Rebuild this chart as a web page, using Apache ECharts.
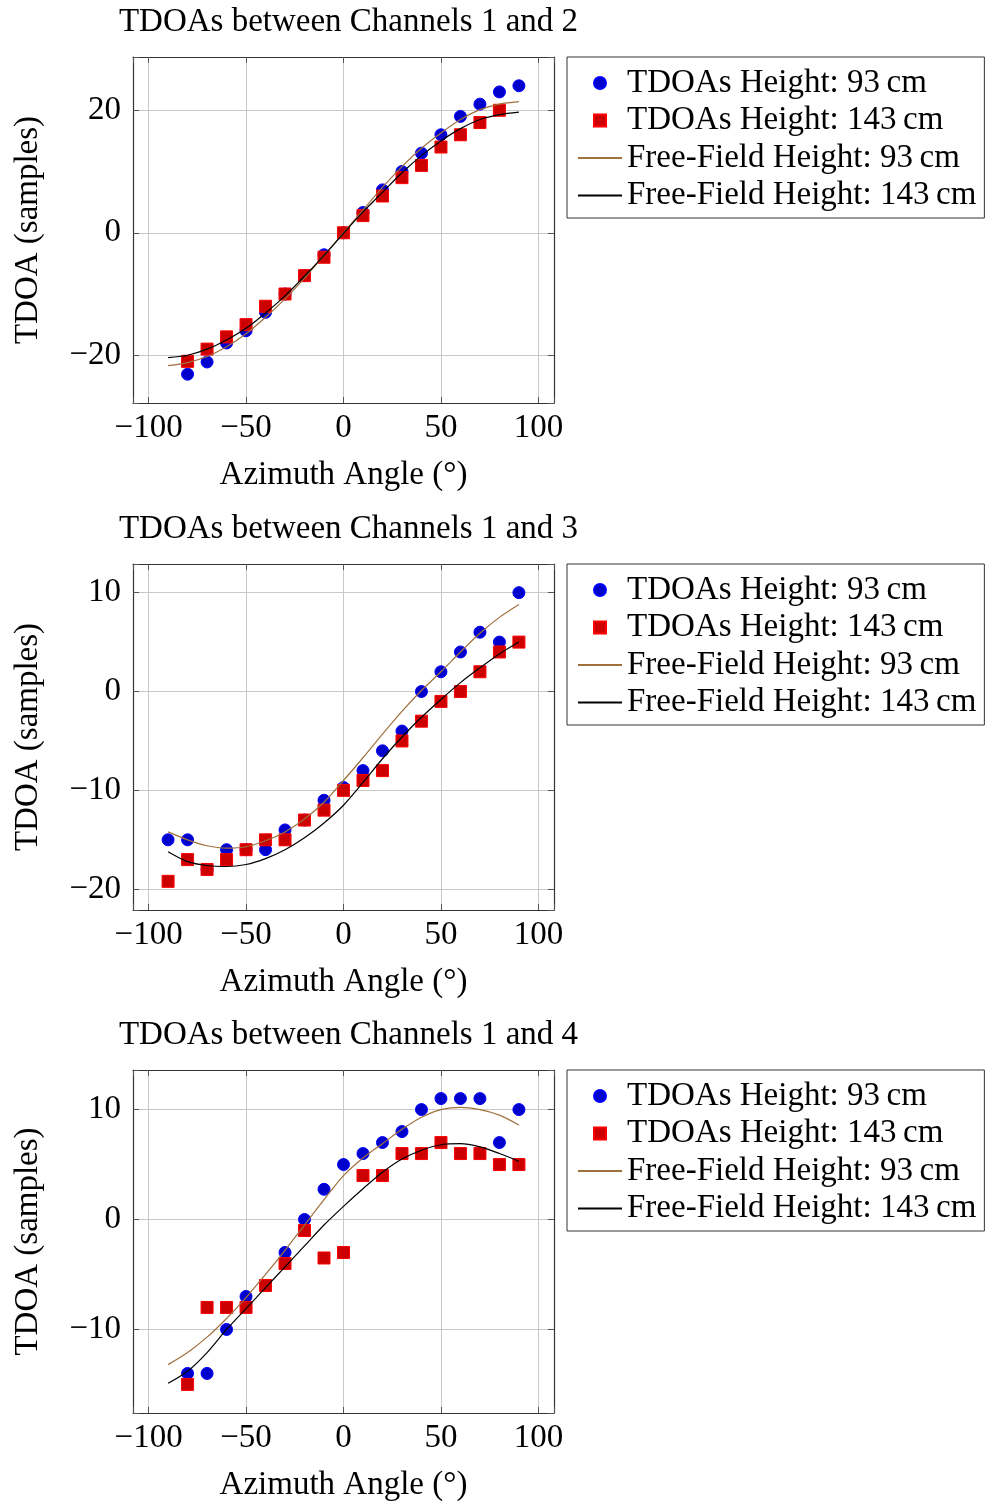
<!DOCTYPE html>
<html lang="en">

<head>
    <meta charset="UTF-8">
    <title>TDOAs</title>
    <script src="https://cdn.jsdelivr.net/npm/echarts@6/dist/echarts.min.js"></script>
    <style>
        body {
            margin: 0;
            background: #fff;
        }

        #main {
            width: 987px;
            height: 1503px;
        }
    </style>
</head>

<body>
    <div id="main"></div>
    <script>
        // azimuth angles (deg)
        var angles = [-90, -80, -70, -60, -50, -40, -30, -20, -10, 0, 10, 20, 30, 40, 50, 60, 70, 80, 90];

        var titles = ['TDOAs between Channels 1 and 2', 'TDOAs between Channels 1 and 3', 'TDOAs between Channels 1 and 4'];
        var names = ['TDOAs Height: 93\u2009cm', 'TDOAs Height: 143\u2009cm', 'Free-Field Height: 93\u2009cm', 'Free-Field Height: 143\u2009cm'];

        // channels 1-2
        var meas93_12 = [null, -23.1, -21.1, -18, -16, -13, -10, -7, -3.6, 0, 3.3, 7, 10, 13, 16, 19, 21, 23, 24];
        var meas143_12 = [null, -21, -19, -17, -15, -12, -10, -7, -4, 0, 2.8, 6, 9, 11, 14, 16, 18, 20, null];
        var free93_12 = [-21.7, -21.2, -20.2, -18.6, -16.5, -13.8, -10.8, -7.4, -3.7, 0, 3.7, 7.4, 10.8, 13.8, 16.3, 18.5, 20.1, 21.0, 21.4];
        var free143_12 = [-20.4, -20.0, -19.0, -17.5, -15.6, -13.1, -10.3, -7.1, -3.7, -0.1, 3.4, 6.6, 9.8, 12.6, 15.0, 17.0, 18.5, 19.3, 19.7];

        // channels 1-3
        var meas93_13 = [-15, -15, -18, -16, -16, -16, -14, -13, -11, -9.7, -8, -6, -4, 0, 2, 4, 6, 5, 10];
        var meas143_13 = [-19.2, -17, -18, -17, -16, -15, -15, -13, -12, -10, -9, -8, -5, -3, -1, 0, 2, 4, 5];
        var free93_13 = [-14.2, -15.0, -15.6, -15.85, -15.7, -15.1, -14.2, -12.9, -11.2, -9.0, -6.7, -4.3, -2.0, 0.1, 2.0, 4.0, 5.9, 7.5, 8.8];
        var free143_13 = [-16.2, -17.2, -17.6, -17.7, -17.5, -16.9, -16.0, -14.8, -13.3, -11.5, -9.2, -6.8, -4.6, -2.6, -0.8, 0.9, 2.4, 3.8, 5.0];

        // channels 1-4
        var meas93_14 = [null, -14, -14, -10, -7, -6, -3, 0, 2.75, 5, 6, 7, 8, 10, 11, 11, 11, 7, 10];
        var meas143_14 = [null, -15, -8, -8, -8, -6, -4, -1, -3.5, -3, 4, 4, 6, 6, 7, 6, 6, 5, 5];
        var free93_14 = [-13.2, -12.1, -10.7, -9.0, -7.1, -5.0, -2.8, -0.5, 1.8, 4.0, 5.6, 6.9, 8.2, 9.3, 10.0, 10.2, 10.0, 9.5, 8.6];
        var free143_14 = [-14.9, -13.8, -12.1, -10.0, -8.1, -6.2, -4.3, -2.4, -0.5, 1.2, 2.8, 4.3, 5.5, 6.3, 6.8, 6.9, 6.6, 6.0, 5.3];

        var panels = [
            { m93: meas93_12, m143: meas143_12, f93: free93_12, f143: free143_12 },
            { m93: meas93_13, m143: meas143_13, f93: free93_13, f143: free143_13 },
            { m93: meas93_14, m143: meas143_14, f93: free93_14, f143: free143_14 }
        ];

        var FONT = 'Liberation Serif';
        var FS = 33;
        var BROWN = '#a0703f';
        var tops = [57, 564, 1070];
        var yRanges = [[-27.8, 28.7], [-22.1, 12.9], [-17.6, 13.6]];
        var ySteps = [20, 10, 10];

        function pairs(arr) {
            var out = [];
            for (var i = 0; i < angles.length; i++) {
                if (arr[i] !== null) out.push([angles[i], arr[i]]);
            }
            return out;
        }

        function tickFmt(step) {
            return function (v) {
                if (Math.abs(v % step) > 1e-6) return '';
                return String(v).replace('-', '\u2212');
            };
        }

        // legend entries: square icon kept square inside a 44px slot, no dot on the line samples
        var noDot = { color: 'rgba(0,0,0,0)', borderColor: 'rgba(0,0,0,0)', borderWidth: 0 };
        var legendData = [
            { name: names[0], icon: 'circle' },
            { name: names[1], icon: 'path://M0,6L0,6.01M16,0L28,0L28,12L16,12ZM44,6L44,6.01' },
            { name: names[2], itemStyle: noDot },
            { name: names[3], itemStyle: noDot }
        ];

        var grid = [], xAxis = [], yAxis = [], series = [], title = [], legend = [];

        panels.forEach(function (p, i) {
            var top = tops[i];
            grid.push({ left: 133, top: top, width: 421, height: 346 });
            title.push({
                text: titles[i],
                left: 343.5,
                top: top - 56,
                textAlign: 'center',
                textStyle: { fontFamily: FONT, fontSize: FS, fontWeight: 'normal', color: '#000' }
            });
            var axisBase = {
                gridIndex: i,
                type: 'value',
                axisLine: { show: true, onZero: false, lineStyle: { color: '#333', width: 1.2 } },
                axisTick: { show: true, inside: true, length: 6, lineStyle: { color: '#555', width: 1 } }
            };
            // bottom / top x axes
            xAxis.push(Object.assign({}, axisBase, {
                position: 'bottom', min: -108, max: 108, splitNumber: 5,
                name: 'Azimuth Angle (\u00b0)', nameLocation: 'middle', nameGap: 56,
                nameTextStyle: { fontFamily: FONT, fontSize: FS, color: '#000' },
                splitLine: { show: true, lineStyle: { color: '#c8c8c8', width: 1 } },
                axisLabel: { formatter: tickFmt(50), fontFamily: FONT, fontSize: FS, color: '#000', margin: 9 }
            }));
            xAxis.push(Object.assign({}, axisBase, {
                position: 'top', min: -108, max: 108, splitNumber: 5,
                splitLine: { show: false }, axisLabel: { show: false }
            }));
            // left / right y axes
            yAxis.push(Object.assign({}, axisBase, {
                position: 'left', min: yRanges[i][0], max: yRanges[i][1], splitNumber: 3,
                name: 'TDOA (samples)', nameLocation: 'middle', nameGap: 88,
                nameTextStyle: { fontFamily: FONT, fontSize: FS, color: '#000' },
                splitLine: { show: true, lineStyle: { color: '#c8c8c8', width: 1 } },
                axisLabel: { formatter: tickFmt(ySteps[i]), fontFamily: FONT, fontSize: FS, color: '#000', margin: 12 }
            }));
            yAxis.push(Object.assign({}, axisBase, {
                position: 'right', min: yRanges[i][0], max: yRanges[i][1], splitNumber: 3,
                splitLine: { show: false }, axisLabel: { show: false }
            }));

            var xi = 2 * i, yi = 2 * i;
            series.push({
                name: names[0], type: 'scatter', xAxisIndex: xi, yAxisIndex: yi,
                symbol: 'circle', symbolSize: 12,
                itemStyle: { color: '#0000cc', borderColor: '#0000ff', borderWidth: 1, opacity: 1 },
                data: pairs(p.m93)
            });
            series.push({
                name: names[1], type: 'scatter', xAxisIndex: xi, yAxisIndex: yi,
                symbol: 'rect', symbolSize: 12,
                itemStyle: { color: '#cc0000', borderColor: '#ff0000', borderWidth: 1, opacity: 1 },
                data: pairs(p.m143)
            });
            series.push({
                name: names[2], type: 'line', xAxisIndex: xi, yAxisIndex: yi,
                symbol: 'none', smooth: 0.3,
                lineStyle: { color: BROWN, width: 1.2 },
                itemStyle: { color: BROWN },
                data: pairs(p.f93)
            });
            series.push({
                name: names[3], type: 'line', xAxisIndex: xi, yAxisIndex: yi,
                symbol: 'none', smooth: 0.3,
                lineStyle: { color: '#000', width: 1.2 },
                itemStyle: { color: '#000' },
                data: pairs(p.f143)
            });

            legend.push({
                data: legendData,
                orient: 'vertical',
                left: 567,
                top: top,
                padding: [9, 8, 5.5, 10],
                itemGap: 3.5,
                itemWidth: 44,
                itemHeight: 12,
                borderColor: '#333',
                borderWidth: 1,
                borderRadius: 0,
                backgroundColor: '#fff',
                selectedMode: false,
                textStyle: { fontFamily: FONT, fontSize: FS, color: '#000', lineHeight: 34 }
            });
        });

        var myChart = echarts.init(document.getElementById('main'), null, { renderer: 'canvas' });
        myChart.setOption({
            animation: false,
            backgroundColor: '#fff',
            title: title,
            legend: legend,
            grid: grid,
            xAxis: xAxis,
            yAxis: yAxis,
            series: series
        });
    </script>
</body>

</html>
